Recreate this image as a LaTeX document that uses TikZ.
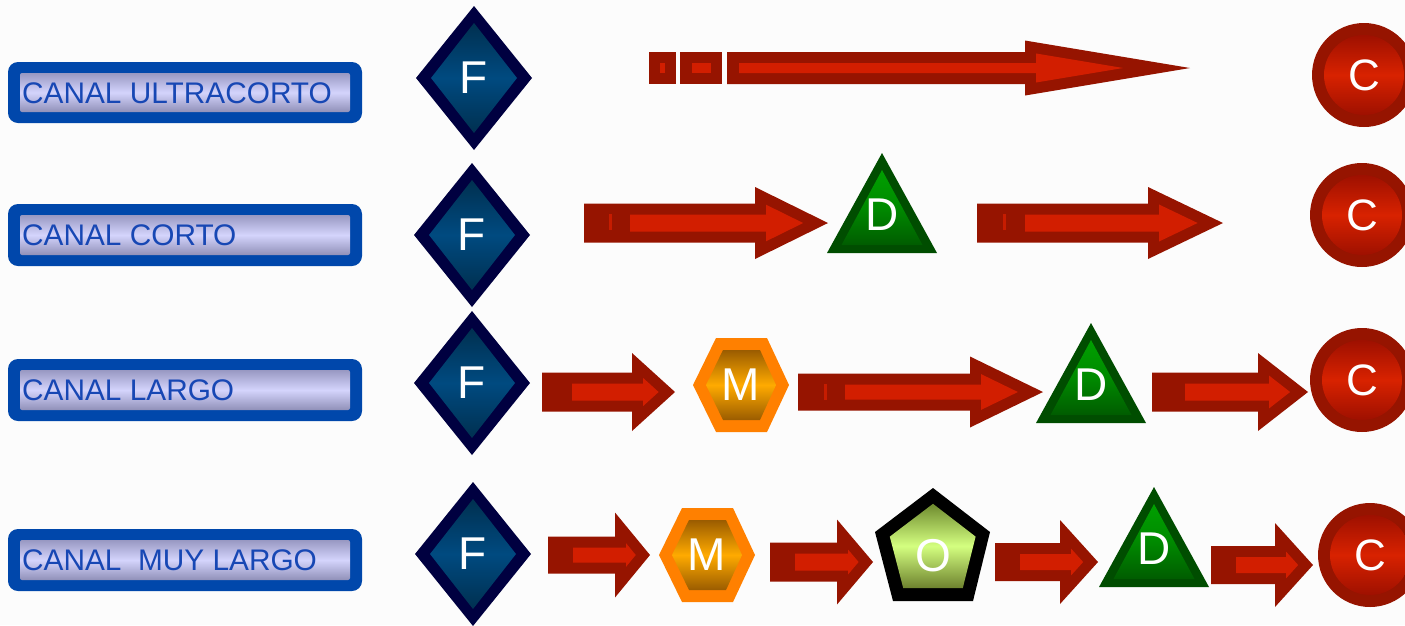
\documentclass[tikz,border=0pt]{standalone}
\usepackage{fontspec}
\setmainfont{Liberation Sans}
\definecolor{labelblue}{HTML}{0047AB}
\definecolor{labeltext}{HTML}{1747B4}
\definecolor{navy}{HTML}{000040}
\definecolor{reddark}{HTML}{961400}
\definecolor{redlight}{HTML}{D21E00}
\definecolor{greendark}{HTML}{004D00}
\definecolor{orangeedge}{HTML}{FF8000}
\xdefinecolor{HTML9898C2}{HTML}{9898C2}
\xdefinecolor{HTML9090B8}{HTML}{9090B8}
\xdefinecolor{HTMLD4D4FC}{HTML}{D4D4FC}
\xdefinecolor{HTML003050}{HTML}{003050}
\xdefinecolor{HTML004A80}{HTML}{004A80}
\xdefinecolor{HTML00A000}{HTML}{00A000}
\xdefinecolor{HTML005C00}{HTML}{005C00}
\xdefinecolor{HTML008A00}{HTML}{008A00}
\xdefinecolor{HTML9A5C00}{HTML}{9A5C00}
\xdefinecolor{HTMLFFAA00}{HTML}{FFAA00}
\xdefinecolor{HTML6E8A2E}{HTML}{6E8A2E}
\xdefinecolor{HTML6E822E}{HTML}{6E822E}
\xdefinecolor{HTMLD4FF80}{HTML}{D4FF80}
\xdefinecolor{HTML9E1000}{HTML}{9E1000}
\xdefinecolor{HTMLD82200}{HTML}{D82200}
\tikzset{
  arrowdark/.style={fill=reddark},
  arrowlight/.style={fill=redlight},
  labelouter/.style={fill=labelblue, rounded corners=10pt},
  labelinner/.style={top color=HTML9898C2, bottom color=HTML9090B8, middle color=HTMLD4D4FC, rounded corners=2pt},
  labeltxt/.style={anchor=base west, inner sep=0pt, text=labeltext, font=\fontsize{29.8}{29.8}\selectfont},
  letter/.style={inner sep=0pt, text=white, font=\fontsize{46}{46}\selectfont},
  diamondfill/.style={top color=HTML003050, bottom color=HTML003050, middle color=HTML004A80},
  trianglefill/.style={top color=HTML00A000, bottom color=HTML005C00, middle color=HTML008A00},
  hexfill/.style={top color=HTML9A5C00, bottom color=HTML9A5C00, middle color=HTMLFFAA00},
  pentfill/.style={top color=HTML6E8A2E, bottom color=HTML6E822E, middle color=HTMLD4FF80},
  circlefill/.style={top color=HTML9E1000, bottom color=HTML9E1000, middle color=HTMLD82200},
}

\newcommand{\arrowinset}{11}
% block arrow: tail x, inner start x, head start x, tip x, centre y, shaft half height, head half height
\newcommand{\blockarrow}[7]{%
  \pgfmathsetmacro{\ahL}{#4-#3}%
  \pgfmathsetmacro{\ahS}{veclen(\ahL,#7)}%
  \pgfmathsetmacro{\ahR}{\ahL*#7/(#7+\ahS)}%
  \pgfmathsetmacro{\ahK}{(\ahR-\arrowinset)/\ahR}%
  \pgfmathsetmacro{\ahTip}{#3+\ahR+\ahK*(\ahL-\ahR)}%
  \pgfmathsetmacro{\ahBack}{#3+\arrowinset}%
  \pgfmathsetmacro{\ahH}{\ahK*#7}%
  \pgfmathsetmacro{\ahSh}{#6-\arrowinset}%
  \fill[arrowdark] (#1,#5-#6) -- (#3,#5-#6) -- (#3,#5-#7) -- (#4,#5)
    -- (#3,#5+#7) -- (#3,#5+#6) -- (#1,#5+#6) -- cycle;
  \fill[arrowlight] (#2,#5-\ahSh) -- (\ahBack,#5-\ahSh) -- (\ahBack,#5-\ahH)
    -- (\ahTip,#5) -- (\ahBack,#5+\ahH) -- (\ahBack,#5+\ahSh) -- (#2,#5+\ahSh) -- cycle;
}
% thin light stripe in an arrow tail
\newcommand{\tailstripe}[2]{%
  \fill[redlight!80!reddark] (#1,#2-8) rectangle (#1+3,#2+8);
}
% diamond with centre (#1,#2), node name #3 and letter #4
\newcommand{\fdiamond}[4]{%
  \fill[navy] (#1,#2-72) -- (#1+58,#2) -- (#1,#2+72) -- (#1-58,#2) -- cycle;
  \shade[diamondfill] (#1,#2-55) -- (#1+43,#2) -- (#1,#2+55) -- (#1-43,#2) -- cycle;
  \node[letter] (#3) at (#1,#2) {#4};
}
% triangle with apex (#1,#2)
\newcommand{\dtriangle}[3]{%
  \fill[greendark] (#1,#2) -- (#1+55,#2+100) -- (#1-55,#2+100) -- cycle;
  \shade[trianglefill] (#1,#2+17) -- (#1+40.5,#2+92) -- (#1-40.5,#2+92) -- cycle;
  \node[letter] (#3) at (#1,#2+62) {D};
}
% hexagon with centre (#1,#2)
\newcommand{\mhexagon}[3]{%
  \fill[orangeedge] (#1-48,#2) -- (#1-25,#2-47) -- (#1+26,#2-47) -- (#1+48,#2)
    -- (#1+26,#2+47) -- (#1-25,#2+47) -- cycle;
  \shade[hexfill] (#1-35,#2) -- (#1-18,#2-35) -- (#1+19,#2-35) -- (#1+35,#2)
    -- (#1+19,#2+35) -- (#1-18,#2+35) -- cycle;
  \node[letter] (#3) at (#1,#2) {M};
}
% circle with centre (#1,#2)
\newcommand{\ccircle}[3]{%
  \fill[reddark] (#1,#2) circle[radius=52];
  \shade[circlefill] (#1,#2) circle[radius=40];
  \node[letter, font=\fontsize{44}{44}\selectfont] (#3) at (#1,#2) {C};
}
% label box: top y, bottom y, text baseline, node name, text
\newcommand{\labelbox}[5]{%
  \fill[labelouter] (8,#1) rectangle (362,#2);
  \shade[labelinner] (20,#1+11) rectangle (350,#2-11);
  \node[labeltxt] (#4) at (22,#3) {#5};
}

\begin{document}
\begin{tikzpicture}[x=1pt,y=-1pt]
\useasboundingbox (0,0) rectangle (1405,625);
\fill[white!99!black] (0,0) rectangle (1405,625);

% ---- channel labels
\labelbox{62}{123}{103.5}{lab1}{CANAL ULTRACORTO}
\labelbox{204}{266}{245.5}{lab2}{CANAL CORTO}
\labelbox{359}{421}{400.5}{lab3}{CANAL LARGO}
\labelbox{529}{591}{570.5}{lab4}{CANAL\ \ MUY LARGO}

% ---- manufacturers
\fdiamond{474}{78}{f1}{F}
\fdiamond{472}{235}{f2}{F}
\fdiamond{472}{383}{f3}{F}
\fdiamond{473}{554}{f4}{F}

% ---- row 1: F -> C
\fill[arrowdark] (649,52) rectangle (676,84);
\fill[arrowdark] (680,52) rectangle (722,84);
\fill[arrowlight] (660,63) rectangle (665,73);
\fill[arrowlight] (692,63) rectangle (711,73);
\blockarrow{727}{739}{1025}{1190}{68}{16}{27.5}
\ccircle{1364}{75}{c1}

% ---- row 2: F -> D -> C
\blockarrow{584}{630}{755}{828}{223}{19.5}{36}
\tailstripe{609}{222}
\dtriangle{882}{153}{d2}
\blockarrow{977}{1025}{1148}{1223}{223}{19.5}{36}
\tailstripe{1003}{222}
\ccircle{1362}{215}{c2}

% ---- row 3: F -> M -> D -> C
\blockarrow{542}{572}{632}{675}{392}{19.5}{39}
\mhexagon{741}{385}{m3}
\blockarrow{798}{845}{970}{1043}{392}{18.5}{35.5}
\tailstripe{824}{392}
\dtriangle{1091}{323}{d3}
\blockarrow{1152}{1185}{1258}{1308}{392}{19.5}{39}
\ccircle{1362}{380}{c3}

% ---- row 4: F -> M -> O -> D -> C
\blockarrow{548}{573}{615}{650}{555}{18.5}{42.5}
\mhexagon{707}{555}{m4}
\blockarrow{770}{795}{837}{873}{562}{19.5}{42.5}
\fill[black] (933,488) -- (990,532) -- (973,601) -- (893,601) -- (875,532) -- cycle;
\shade[pentfill] (933,503.8) -- (975.6,536.6) -- (962.8,588) -- (903.2,588) -- (889.8,536.6) -- cycle;
\node[letter] (o4) at (933,556) {O};
\blockarrow{995}{1020}{1060}{1098}{562}{19}{42}
\dtriangle{1154}{487}{d4}
\blockarrow{1211}{1236}{1275}{1313}{565}{19}{42}
\ccircle{1370}{555}{c4}
\end{tikzpicture}
\end{document}
